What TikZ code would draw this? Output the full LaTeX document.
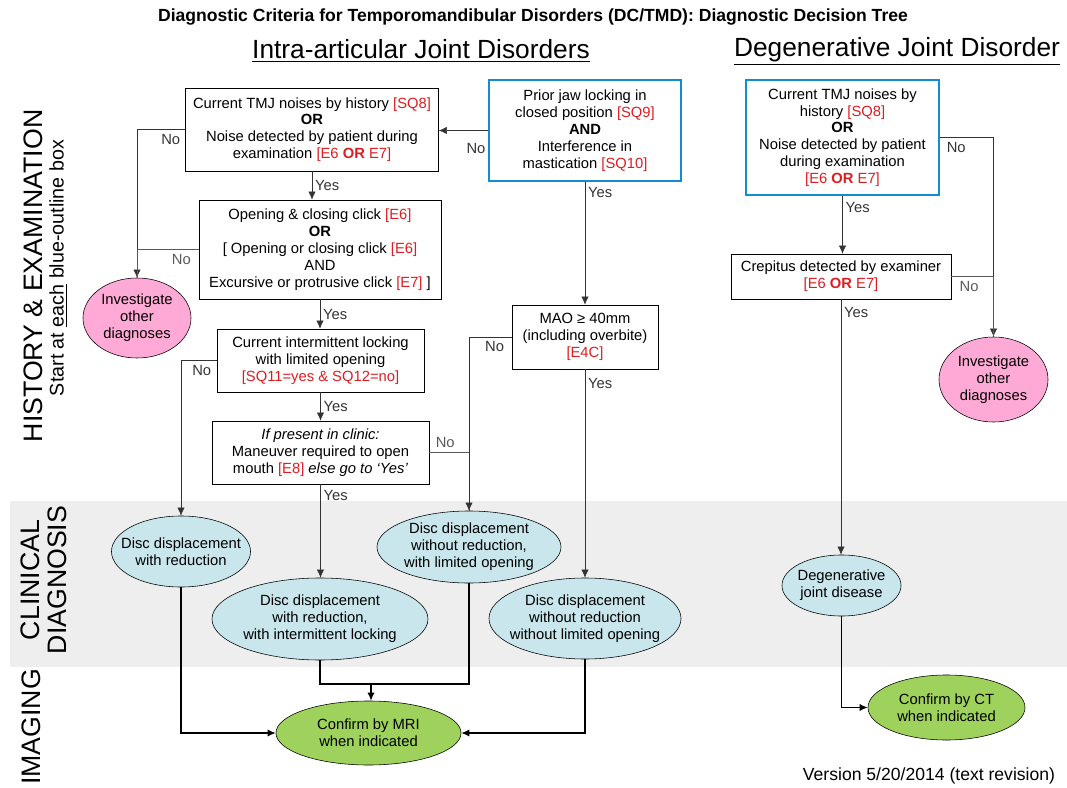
\documentclass[tikz,border=0pt]{standalone}
\usepackage{fontspec}
\setmainfont{Liberation Sans}
\usetikzlibrary{arrows.meta, positioning, shapes.geometric}
\definecolor{refred}{RGB}{220,30,35}
\definecolor{outblue}{RGB}{20,140,210}
\definecolor{pinkfill}{RGB}{255,170,214}
\definecolor{dxfill}{RGB}{200,230,236}
\definecolor{imgfill}{RGB}{158,210,92}
\definecolor{bandgray}{RGB}{238,238,238}
\newcommand{\rf}[1]{\textcolor{refred}{#1}}

\begin{document}
\begin{tikzpicture}[x=0.025cm, y=-0.025cm,
  box/.style={draw, fill=white, align=center,
              font=\fontsize{10.5}{12}\selectfont, inner sep=2pt},
  bbox/.style={box, draw=outblue, line width=1.8pt},
  txt/.style={align=center, font=\fontsize{10.5}{12}\selectfont},
  oval/.style={ellipse, draw, fill=dxfill, inner sep=0pt},
  ovpink/.style={oval, fill=pinkfill},
  ovgreen/.style={oval, fill=imgfill},
  head/.style={font=\fontsize{18.7}{22}\selectfont},
  side/.style={rotate=90, font=\fontsize{19}{19.5}\selectfont, align=center},
  arr/.style={-{Latex[length=2mm, width=1.8mm]}, black!80},
  arrb/.style={arr, line width=0.9pt, black},
  ln/.style={black!65},
  yes/.style={right, font=\fontsize{10.5}{12}\selectfont, inner sep=2pt},
  no/.style={below, font=\fontsize{10.5}{12}\selectfont, inner sep=3pt},
]
\useasboundingbox (0,0) rectangle (1067,788);

% ---- Clinical diagnosis band -----------------------------------------------
\fill[bandgray] (10,501) rectangle (1067,667);

% ---- Titles ----------------------------------------------------------------
\node[font=\bfseries\fontsize{12.5}{14}\selectfont] (title) at (533,17)
  {Diagnostic Criteria for Temporomandibular Disorders (DC/TMD): Diagnostic Decision Tree};
\node[head] (hintra) at (421,51) {\underline{Intra-articular Joint Disorders}};
\node[head] (hdeg)   at (897,51) {\underline{Degenerative Joint Disorder}};

% ---- Row labels ------------------------------------------------------------
\node[side] (shist)  at (33,276) {HISTORY \& EXAMINATION};
\node[rotate=90, font=\fontsize{14}{16}\selectfont] (sstart) at (58,268)
  {Start at \underline{each} blue-outline box};
\node[side] (sclin)  at (44,580) {CLINICAL\\DIAGNOSIS};
\node[side] (simg)   at (31,727) {IMAGING};
\node[anchor=east, font=\fontsize{12.5}{14}\selectfont] (ver) at (1060,776)
  {Version 5/20/2014 (text revision)};

% ---- Intra-articular questions ---------------------------------------------
\node[box, minimum width=6.325cm, minimum height=2.075cm] (q1) at (312,129.5)
  {Current TMJ noises by history \rf{[SQ8]}\\\textbf{OR}\\
   Noise detected by patient during\\examination \rf{[E6 \textbf{OR} E7]}};
\node[bbox, minimum width=4.8cm, minimum height=2.525cm] (jaw) at (585,130.5)
  {Prior jaw locking in\\closed position \rf{[SQ9]}\\\textbf{AND}\\
   Interference in\\mastication \rf{[SQ10]}};
\node[box, minimum width=6.05cm, minimum height=2.475cm] (q2) at (320,249.5)
  {Opening \& closing click \rf{[E6]}\\\textbf{OR}\\
   {[} Opening or closing click \rf{[E6]}\\AND\\
   Excursive or protrusive click \rf{[E7]} ]};
\node[box, minimum width=5.175cm, minimum height=1.575cm] (q3) at (320.5,360.5)
  {Current intermittent locking\\with limited opening\\
   \rf{[SQ11=yes \& SQ12=no]}};
\node[box, minimum width=5.425cm, minimum height=1.575cm] (q4) at (320.5,452.5)
  {\textit{If present in clinic:}\\Maneuver required to open\\
   mouth \rf{[E8]} \textit{else go to `Yes'}};
\node[box, minimum width=3.65cm, minimum height=1.6cm] (mao) at (585,337)
  {MAO ≥ 40mm\\(including overbite)\\\rf{[E4C]}};

% ---- Degenerative questions ------------------------------------------------
\node[bbox, minimum width=4.825cm, minimum height=2.875cm] (q5) at (842.5,137.5)
  {Current TMJ noises by\\history \rf{[SQ8]}\\\textbf{OR}\\
   Noise detected by patient\\during examination\\\rf{[E6 \textbf{OR} E7]}};
\node[box, minimum width=5.5cm, minimum height=1.125cm] (crep) at (841,276.5)
  {Crepitus detected by examiner\\\rf{[E6 \textbf{OR} E7]}};

% ---- Outcomes --------------------------------------------------------------
\node[ovpink, minimum width=2.7cm, minimum height=2cm,
      label={[txt]center:{Investigate\\other\\diagnoses}}] (oth1) at (137,318) {};
\node[ovpink, minimum width=2.725cm, minimum height=2.125cm,
      label={[txt]center:{Investigate\\other\\diagnoses}}] (oth2) at (993.5,379.5) {};
\node[oval, minimum width=3.475cm, minimum height=1.775cm,
      label={[txt]center:{Disc displacement\\with reduction}}] (dd1) at (181,551.5) {};
\node[oval, minimum width=5.4cm, minimum height=2.05cm,
      label={[txt]center:{Disc displacement\\with reduction,\\with intermittent locking}}]
      (dd2) at (320,619) {};
\node[oval, minimum width=4.6cm, minimum height=1.8cm,
      label={[txt]center:{Disc displacement\\without reduction,\\with limited opening}}]
      (dd3) at (469,547) {};
\node[oval, minimum width=4.8cm, minimum height=2.025cm,
      label={[txt]center:{Disc displacement\\without reduction\\without limited opening}}]
      (dd4) at (585,618.5) {};
\node[oval, minimum width=2.975cm, minimum height=1.525cm,
      label={[txt]center:{Degenerative\\joint disease}}] (djd) at (841.5,585.5) {};
\node[ovgreen, minimum width=4.625cm, minimum height=1.6cm,
      label={[txt]center:{Confirm by MRI\\when indicated}}] (mri) at (368.5,733) {};
\node[ovgreen, minimum width=3.925cm, minimum height=1.625cm,
      label={[txt]center:{Confirm by CT\\when indicated}}] (ct) at (946.5,707.5) {};

% ---- Intra-articular connectors --------------------------------------------
\draw[arr] (jaw.west) -- node[no, pos=0.24, below=6pt]{No} (jaw.west -| q1.east);
\draw[arr] (q1.west) -| node[no, pos=0.15]{No} (oth1.north);
\draw[ln]  (q2.west) -| node[no, pos=0.14]{No} (oth1.north);
\draw[arr] (q1.south) -- node[yes]{Yes} (q1.south |- q2.north);
\draw[arr] (q2.south) -- node[yes]{Yes} (q2.south |- q3.north);
\draw[arr] (q3.south) -- node[yes]{Yes} (q3.south |- q4.north);
\draw[arr] (q3.west) -| node[no, pos=0.21]{No} (dd1.north);
\draw[arr] (q4.south) -- node[yes, pos=0.12]{Yes} (q4.south |- dd2.north);
\draw[ln]  (q4.east) -| node[no, above, pos=0.2]{No} (dd3.north);
\draw[arr] (mao.west) -| node[no, pos=0.2]{No} (dd3.north);
\draw[arr] (jaw.south) -- node[yes, pos=0.08]{Yes} (mao.north);
\draw[arr] (mao.south) -- node[yes, pos=0.07]{Yes} (dd4.north);

% ---- Degenerative connectors -----------------------------------------------
\draw[arr] (q5.south) -- node[yes, pos=0.2]{Yes} (q5.south |- crep.north);
\draw[arr] (q5.east) -| node[no, pos=0.15]{No} (oth2.north);
\draw[ln]  (crep.east) -| node[no, pos=0.21]{No} (oth2.north);
\draw[arr] (crep.south) -- node[yes, pos=0.05]{Yes} (crep.south |- djd.north);

% ---- Imaging ---------------------------------------------------------------
\coordinate (jn) at (371,684);
\draw[line width=0.9pt] (dd2.south) |- (jn);
\draw[line width=0.9pt] (dd3.south) |- (jn);
\draw[arrb] (jn) -- (jn |- mri.north);
\draw[arrb] (dd1.south) |- (mri.west);
\draw[arrb] (dd4.south) |- (mri.east);
\draw[arrb] (djd.south) |- (ct.west);

\end{tikzpicture}
\end{document}
